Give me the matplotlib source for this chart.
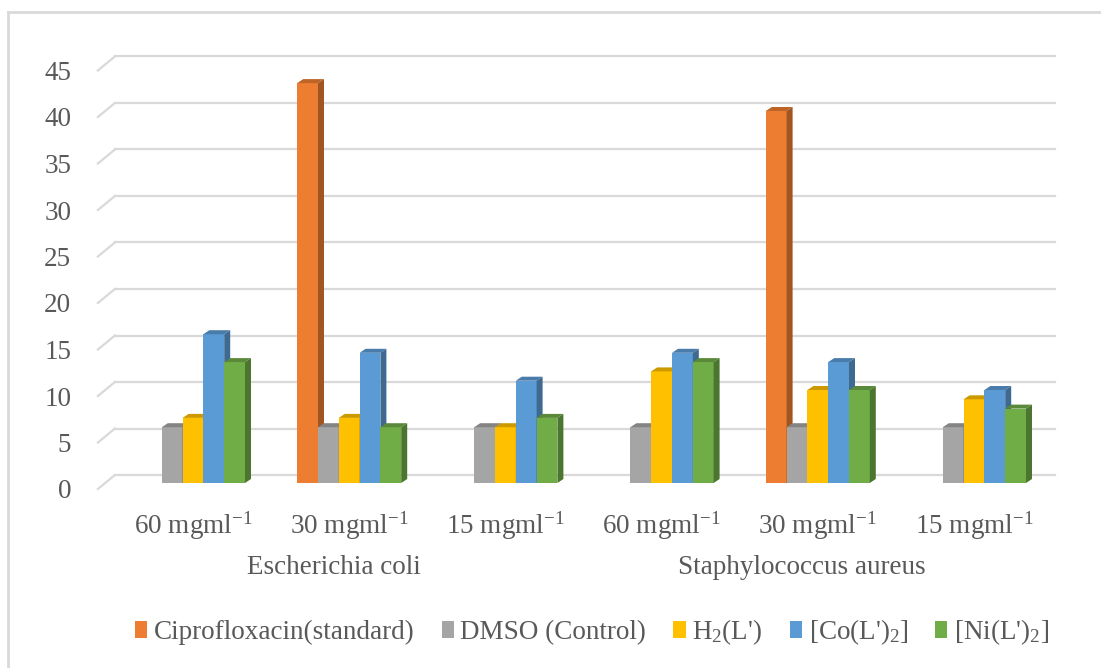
import numpy as np
import matplotlib
matplotlib.use("Agg")
import matplotlib.pyplot as plt
from matplotlib.patches import Patch
from matplotlib.colors import to_rgb
from matplotlib.lines import Line2D

# fonts: Times-like serif everywhere, mathtext for the sub/superscripts
plt.rcParams['font.family'] = ['Liberation Serif', 'DejaVu Serif']
plt.rcParams['mathtext.fontset'] = 'custom'
plt.rcParams['mathtext.rm'] = 'Liberation Serif'
plt.rcParams['mathtext.it'] = 'Liberation Serif:italic'

text_color = '#595959'
grid_color = '#d9d9d9'

# zone of inhibition (mm) per concentration, two organisms
concentrations = ['60 mgml$^{-1}$', '30 mgml$^{-1}$', '15 mgml$^{-1}$',
                  '60 mgml$^{-1}$', '30 mgml$^{-1}$', '15 mgml$^{-1}$']
organisms = ['Escherichia coli', 'Staphylococcus aureus']
series_names = ['Ciprofloxacin(standard)', 'DMSO (Control)', 'H$_2$(L\')',
                '[Co(L\')$_2$]', '[Ni(L\')$_2$]']
cipro = [0, 43, 0, 0, 40, 0]
dmso = [6, 6, 6, 6, 6, 6]
h2l = [7, 7, 6, 12, 10, 9]
co_l2 = [16, 14, 11, 14, 13, 10]
ni_l2 = [13, 6, 7, 13, 10, 8]
colors = ['#ED7D31', '#A5A5A5', '#FFC000', '#5B9BD5', '#70AD47']
yticks = [0, 5, 10, 15, 20, 25, 30, 35, 40, 45]

series = [cipro, dmso, h2l, co_l2, ni_l2]

W, H = 1101, 668
fig = plt.figure(figsize=(W / 100, H / 100), dpi=100)

# pixel scales of the plot (x: one category, y: one mm)
px_x, px_y = 156.2, 9.3
x_lo, x_hi = -0.62, 5.55
y_lo, y_hi = -2.0, 47.0
left_px, base_px = 193 - 0.62 * px_x, 483 + 2.0 * px_y
ax = fig.add_axes([left_px / W, (H - base_px) / H,
                   (x_hi - x_lo) * px_x / W, (y_hi - y_lo) * px_y / H])
ax.set_xlim(x_lo, x_hi)
ax.set_ylim(y_lo, y_hi)
for s in ax.spines.values():
    s.set_visible(False)

# 3D-looking depth
back_dy = 8 / px_y      # back wall sits above the bar base
front_dy = -6 / px_y    # front end of the wall slant
wall_dx = 17 / px_x
bar_dx, bar_dy = 6 / px_x, 4 / px_y
bw = 20.8 / px_x


def shade(c, f):
    r, g, b = to_rgb(c)
    return (r * f, g * f, b * f)


# back wall gridlines with the slanted floor/side edge
for v in yticks:
    ax.plot([-0.5, 5.52], [v + back_dy, v + back_dy], color=grid_color, lw=1.6, zorder=1)
    ax.plot([-0.5 - wall_dx, -0.5], [v + front_dy, v + back_dy],
            color=grid_color, lw=1.6, zorder=1)

x = np.arange(len(concentrations))
z = 2
for i in x:
    for j, vals in enumerate(series):
        v = vals[i]
        if v <= 0:
            continue
        c = colors[j]
        x0 = i + (j - 2.5) * bw
        x1 = x0 + bw
        ax.bar(x0, v, width=bw, align='edge', color=c, lw=0, zorder=z)
        # top face
        ax.fill([x0, x1, x1 + bar_dx, x0 + bar_dx], [v, v, v + bar_dy, v + bar_dy],
                color=shade(c, 0.8), lw=0, zorder=z)
        # side face
        ax.fill([x1, x1 + bar_dx, x1 + bar_dx, x1], [0, bar_dy, v + bar_dy, v],
                color=shade(c, 0.68), lw=0, zorder=z)
        z += 1

ax.set_yticks([v + front_dy for v in yticks])
ax.set_yticklabels([str(v) for v in yticks])
ax.set_xticks(x)
ax.set_xticklabels(concentrations)
ax.tick_params(axis='y', length=0, pad=18, labelsize=19.5, labelcolor=text_color)
ax.tick_params(axis='x', length=0, pad=6, labelsize=19.5, labelcolor=text_color)

# organism names under each block of three concentrations
for k, name in enumerate(organisms):
    ax.text(3 * k + 1 - 0.1, (483 - 568) / px_y, name, ha='center', va='center',
            fontsize=19.5, color=text_color, clip_on=False)

handles = [Patch(facecolor=c, edgecolor='none') for c in colors]
fig.legend(handles, series_names, loc='center', bbox_to_anchor=(592 / W, 1 - 632 / H),
           ncol=5, frameon=False, fontsize=19.5, labelcolor=text_color,
           handlelength=0.45, handleheight=0.55, handletextpad=0.25,
           columnspacing=1.0, borderpad=0)

# chart area border (top and left edges)
fig.add_artist(Line2D([8 / W, 1], [1 - 12 / H, 1 - 12 / H], color='#d9d9d9', lw=2,
                      transform=fig.transFigure))
fig.add_artist(Line2D([8 / W, 8 / W], [0, 1 - 12 / H], color='#d9d9d9', lw=2,
                      transform=fig.transFigure))

fig.savefig('out.png', dpi=100)
